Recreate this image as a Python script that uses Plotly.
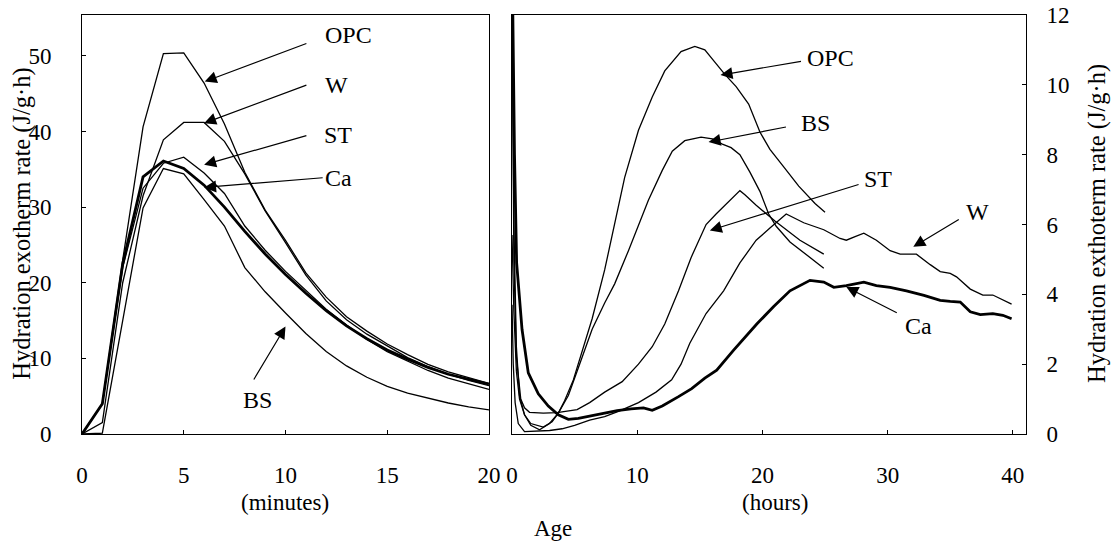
import plotly.graph_objects as go

W_PX, H_PX = 1115, 541
FONT = "Liberation Serif"

# ---------------- Left panel: first 20 minutes ----------------
minutes = list(range(21))
opc_min = [0, 4.0, 23.0, 40.6, 50.3, 50.4, 46.4, 41.0, 34.6, 29.6, 25.6, 21.3, 18.1, 15.5, 13.6, 11.9, 10.5, 9.2, 8.2, 7.4, 6.7]
w_min   = [0, 1.5, 20.0, 31.5, 38.9, 41.2, 41.2, 38.7, 34.4, 29.5, 25.3, 21.0, 17.6, 15.1, 13.2, 11.6, 10.1, 8.9, 7.9, 7.1, 6.4]
st_min  = [0, 4.0, 22.0, 32.5, 35.8, 36.6, 34.5, 31.8, 27.5, 24.3, 21.5, 19.0, 16.5, 14.4, 12.5, 10.9, 9.6, 8.4, 7.4, 6.6, 5.9]
ca_min  = [0, 4.0, 22.5, 34.0, 36.1, 35.1, 32.9, 30.0, 26.8, 23.8, 21.1, 18.6, 16.3, 14.3, 12.6, 11.1, 9.9, 8.8, 7.9, 7.2, 6.6]
bs_min  = [0, 0.1, 15.0, 29.9, 35.1, 34.4, 31.0, 27.5, 22.0, 18.8, 16.0, 13.3, 10.9, 9.0, 7.5, 6.3, 5.4, 4.7, 4.1, 3.6, 3.2]

# ---------------- Right panel: 40 hours ----------------
opc_h_t = [0, 0.15, 0.35, 0.6, 1.0, 1.5, 2.2, 3.0, 3.7, 4.2, 4.9, 5.3, 6.4, 7.4, 8.2, 9.0, 10.1, 11.2, 12.2, 13.5,
           14.6, 15.4, 16.2, 17.0, 17.9, 18.9, 19.8, 20.6, 21.7, 22.9, 24.2, 25.0]
opc_h_v = [13.5, 6.0, 2.5, 1.1, 0.55, 0.25, 0.12, 0.3, 0.6, 0.95, 1.55, 2.0, 3.3, 4.7, 6.0, 7.35, 8.7, 9.65, 10.4, 10.95,
           11.1, 11.0, 10.65, 10.3, 9.95, 9.45, 8.65, 8.15, 7.65, 7.1, 6.6, 6.35]

bs_h_t = [0, 0.15, 0.35, 0.6, 1.0, 1.5, 2.5, 3.2, 3.7, 4.5, 5.3, 6.4, 7.4, 8.2, 9.3, 10.1, 10.9, 12.0, 12.8, 13.8,
          15.1, 16.0, 16.8, 17.5, 18.2, 19.0, 19.8, 20.5, 21.1, 22.2, 23.5, 24.9]
bs_h_v = [5.7, 3.5, 1.8, 1.0, 0.55, 0.3, 0.2, 0.35, 0.6, 1.1, 1.9, 3.0, 3.75, 4.3, 5.25, 6.0, 6.7, 7.55, 8.1, 8.4,
          8.5, 8.45, 8.3, 8.2, 8.0, 7.5, 6.95, 6.3, 5.95, 5.5, 5.15, 4.75]

st_h_t = [0, 0.15, 0.35, 0.7, 1.0, 1.4, 2.5, 3.6, 5.2, 6.2, 7.4, 8.8, 10.1, 11.2, 12.2, 13.3, 14.3, 15.5, 16.3, 17.3,
          18.2, 18.6, 19.5, 21.0, 23.0, 24.9]
st_h_v = [12.8, 5.0, 2.2, 1.0, 0.75, 0.62, 0.6, 0.61, 0.7, 0.9, 1.2, 1.5, 2.0, 2.5, 3.15, 4.1, 5.05, 6.0, 6.3, 6.65,
          6.97, 6.85, 6.55, 6.1, 5.55, 5.15]

w_h_t = [0, 0.1, 0.25, 0.5, 1.0, 2.0, 3.0, 4.0, 5.0, 6.2, 7.4, 8.5, 10.1, 11.5, 12.75, 13.5, 14.2, 15.5, 16.9, 18.2,
         19.5, 20.6, 21.9, 23.3, 24.9, 26.2, 26.7, 27.4, 28.1, 29.1, 30.2, 31.0, 32.3, 33.4, 34.2, 35.0, 35.5, 36.6,
         37.6, 38.4, 39.2, 39.9]
w_h_v = [3.7, 2.0, 0.9, 0.3, 0.07, 0.08, 0.1, 0.15, 0.25, 0.4, 0.5, 0.65, 0.9, 1.2, 1.55, 2.0, 2.6, 3.45, 4.1, 4.9,
         5.55, 5.9, 6.3, 6.05, 5.85, 5.6, 5.55, 5.65, 5.75, 5.55, 5.25, 5.15, 5.15, 4.85, 4.65, 4.6, 4.5, 4.15,
         3.98, 3.98, 3.85, 3.72]

ca_h_t = [0, 0.2, 0.37, 0.8, 1.3, 2.1, 2.9, 3.7, 4.5, 5.3, 6.3, 7.4, 8.4, 9.5, 10.5, 11.2, 12.0, 13.3, 14.35, 15.4,
          16.35, 17.7, 19.55, 20.9, 22.2, 23.8, 24.9, 25.7, 26.7, 28.1, 29.1, 30.2, 31.5, 32.9, 34.2, 35.0, 35.8,
          36.6, 37.4, 38.4, 39.2, 39.9]
ca_h_v = [14.0, 8.0, 4.9, 3.0, 1.75, 1.15, 0.8, 0.55, 0.42, 0.45, 0.52, 0.6, 0.67, 0.72, 0.75, 0.68, 0.8, 1.07, 1.3, 1.6,
          1.83, 2.4, 3.15, 3.65, 4.1, 4.4, 4.35, 4.2, 4.25, 4.35, 4.25, 4.2, 4.1, 3.97, 3.83, 3.8, 3.78,
          3.5, 3.42, 3.45, 3.4, 3.3]

left_xticks = [0, 5, 10, 15, 20]
left_yticks = [0, 10, 20, 30, 40, 50]
right_xticks = [0, 10, 20, 30, 40]
right_yticks = [0, 2, 4, 6, 8, 10, 12]

# curve labels: (text, label x, label y, arrow tail x, tail y, head x, head y)
left_labels = [
    ("OPC", 13.1, 52.8, 11.1, 51.7, 6.03, 46.6),
    ("W",   12.5, 46.2, 11.1, 46.2, 6.0, 41.1),
    ("ST",  12.6, 39.6, 11.1, 39.5, 6.0, 35.6),
    ("Ca",  12.6, 33.9, 11.9, 33.9, 6.0, 32.6),
    ("BS",   8.6,  4.5,  8.4,  7.0, 10.0, 14.2),
]
right_labels = [
    ("OPC", 25.4, 10.77, 23.2, 10.68, 16.65, 10.28),
    ("BS",  24.2,  8.9,  22.0,  8.8,  15.7,  8.36),
    ("ST",  29.2,  7.31, 27.8,  7.16, 15.8,  5.83),
    ("W",   37.2,  6.36, 35.8,  6.17, 32.05, 5.36),
    ("Ca",  32.45, 3.09, 30.85, 3.45, 26.7,  4.21),
]

THIN, THICK = 1.3, 2.8

fig = go.Figure()
for ys, w in [(opc_min, THIN), (w_min, THIN), (st_min, THIN), (bs_min, THIN), (ca_min, THICK)]:
    fig.add_trace(go.Scatter(x=minutes, y=ys, mode="lines", xaxis="x", yaxis="y",
                             line=dict(color="black", width=w), showlegend=False, hoverinfo="skip"))
for xs, ys, w in [(opc_h_t, opc_h_v, THIN), (bs_h_t, bs_h_v, THIN), (st_h_t, st_h_v, THIN),
                  (w_h_t, w_h_v, THIN), (ca_h_t, ca_h_v, THICK)]:
    fig.add_trace(go.Scatter(x=xs, y=ys, mode="lines", xaxis="x2", yaxis="y2",
                             line=dict(color="black", width=w), showlegend=False, hoverinfo="skip"))

ydom = [1 - 434 / H_PX, 1 - 15 / H_PX]
axis_common = dict(showline=True, linecolor="black", linewidth=1, mirror=True, showgrid=False,
                   zeroline=False, ticks="inside", ticklen=4, tickcolor="black", automargin=False,
                   tickfont=dict(family=FONT, size=23, color="black"))

fig.update_layout(
    template="none",
    width=W_PX, height=H_PX, margin=dict(l=0, r=0, t=0, b=0, pad=0),
    paper_bgcolor="white", plot_bgcolor="white",
    font=dict(family=FONT, color="black"),
    xaxis=dict(domain=[82 / W_PX, 489 / W_PX], range=[0, 20], tickvals=left_xticks, anchor="y",
               ticklabelstandoff=20, **axis_common),
    yaxis=dict(domain=ydom, range=[0, 55.4], tickvals=left_yticks, anchor="x",
               ticklabelstandoff=25, **axis_common),
    xaxis2=dict(domain=[512 / W_PX, 1026 / W_PX], range=[0, 41.05], tickvals=right_xticks, anchor="y2",
                ticklabelstandoff=20, **axis_common),
    yaxis2=dict(domain=ydom, range=[0, 12], tickvals=right_yticks, anchor="x2", side="right",
                ticklabelstandoff=15, **axis_common),
)

anns = []
def txt(text, x, y, xref, yref, size=24, angle=0):
    anns.append(dict(text=text, x=x, y=y, xref=xref, yref=yref, showarrow=False, textangle=angle,
                     font=dict(family=FONT, size=size, color="black"), xanchor="center", yanchor="middle"))

for lbls, xr, yr in [(left_labels, "x", "y"), (right_labels, "x2", "y2")]:
    for name, lx, ly, tx, ty, hx, hy in lbls:
        txt(name, lx, ly, xr, yr)
        anns.append(dict(text="", x=hx, y=hy, xref=xr, yref=yr, ax=tx, ay=ty, axref=xr, ayref=yr,
                         showarrow=True, arrowhead=2, arrowsize=2.0, arrowwidth=1.2, arrowcolor="black",
                         standoff=0, startstandoff=0))

txt("Hydration exotherm rate (J/g\u00b7h)", 21.7 / W_PX, 1 - 224 / H_PX, "paper", "paper", size=24.5, angle=-90)
txt("Hydration exthoterm rate (J/g\u00b7h)", 1097 / W_PX, 1 - 224 / H_PX, "paper", "paper", size=24.5, angle=-90)
txt("(minutes)", 285 / W_PX, 1 - 502 / H_PX, "paper", "paper", size=23)
txt("(hours)", 775 / W_PX, 1 - 502 / H_PX, "paper", "paper", size=23)
txt("Age", 553 / W_PX, 1 - 528 / H_PX, "paper", "paper", size=23)

fig.update_layout(annotations=anns)
fig.write_html("out.html", config={"displayModeBar": False},
               post_script="document.body.style.margin='0px';document.body.style.padding='0px';"
                           "document.body.style.overflow='hidden';")
